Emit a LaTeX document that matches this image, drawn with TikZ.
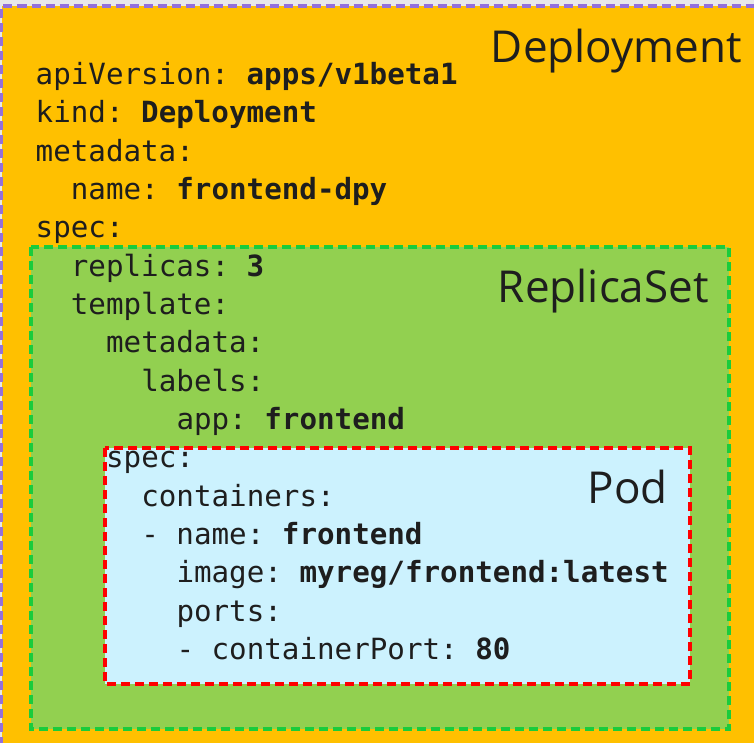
\documentclass[tikz,border=0pt]{standalone}
\usepackage{fontspec}
\setmonofont{DejaVu Sans Mono}
\newfontfamily\headfont{Open Sans}
\definecolor{pagegrey}{HTML}{E8E8E8}
\definecolor{deplfill}{HTML}{FFC000}
\definecolor{deplline}{HTML}{9370DB}
\definecolor{rsfill}{HTML}{92D050}
\definecolor{rsline}{HTML}{1ACC3C}
\definecolor{podfill}{HTML}{CCF2FE}
\definecolor{podline}{HTML}{FF0000}
\definecolor{ink}{HTML}{1E1E1E}
\newcommand\yamlfont{\ttfamily\fontsize{29.2}{35}\selectfont}
\newcommand\kindfont{\headfont\fontsize{44}{50}\selectfont}
\tikzset{
  boxframe/.style={line width=3.5pt, dash pattern=on 9pt off 5pt},
  codeline/.style={anchor=base west, inner sep=0pt, font=\yamlfont, text=ink},
  kindlabel/.style={anchor=base east, inner sep=0pt, font=\kindfont, text=ink},
}
\begin{document}
\begin{tikzpicture}[x=1pt,y=-1pt]
  \useasboundingbox (0,0) rectangle (754,742);
  \fill[pagegrey] (0,0) rectangle (754,742);

  % nested object boxes
  \fill[deplfill] (1.5,6) rectangle (770,760);
  \draw[boxframe, deplline] (1.5,760) -- (1.5,6) -- (770,6);
  \fill[rsfill] (31,247) rectangle (729,729);
  \draw[boxframe, rsline] (31,247) rectangle (729,729);
  \fill[podfill] (105,448) rectangle (690,684);
  \draw[boxframe, podline] (105,448) rectangle (690,684);

  % object kind labels
  \node[kindlabel] (tdepl) at (742,62) {Deployment};
  \node[kindlabel] (trs) at (709,302) {ReplicaSet};
  \node[kindlabel] (tpod) at (668,503) {Pod};

  % manifest text, one line per node (column width 17.6, line pitch 38.35)
  \def\cw{17.6}
  \def\xo{35.5}
  \node[codeline] (l0)  at ({\xo+0*\cw},{84.3+38.35*0})  {apiVersion: \textbf{apps/v1beta1}};
  \node[codeline] (l1)  at ({\xo+0*\cw},{84.3+38.35*1})  {kind: \textbf{Deployment}};
  \node[codeline] (l2)  at ({\xo+0*\cw},{84.3+38.35*2})  {metadata:};
  \node[codeline] (l3)  at ({\xo+2*\cw},{84.3+38.35*3})  {name: \textbf{frontend-dpy}};
  \node[codeline] (l4)  at ({\xo+0*\cw},{84.3+38.35*4})  {spec:};
  \node[codeline] (l5)  at ({\xo+2*\cw},{84.3+38.35*5})  {replicas: \textbf{3}};
  \node[codeline] (l6)  at ({\xo+2*\cw},{84.3+38.35*6})  {template:};
  \node[codeline] (l7)  at ({\xo+4*\cw},{84.3+38.35*7})  {metadata:};
  \node[codeline] (l8)  at ({\xo+6*\cw},{84.3+38.35*8})  {labels:};
  \node[codeline] (l9)  at ({\xo+8*\cw},{84.3+38.35*9})  {app: \textbf{frontend}};
  \node[codeline] (l10) at ({\xo+4*\cw},{84.3+38.35*10}) {spec:};
  \node[codeline] (l11) at ({\xo+6*\cw},{84.3+38.35*11}) {containers:};
  \node[codeline] (l12) at ({\xo+6*\cw},{84.3+38.35*12}) {- name: \textbf{frontend}};
  \node[codeline] (l13) at ({\xo+8*\cw},{84.3+38.35*13}) {image: \textbf{myreg/frontend:latest}};
  \node[codeline] (l14) at ({\xo+8*\cw},{84.3+38.35*14}) {ports:};
  \node[codeline] (l15) at ({\xo+8*\cw},{84.3+38.35*15}) {- containerPort: \textbf{80}};
\end{tikzpicture}
\end{document}
